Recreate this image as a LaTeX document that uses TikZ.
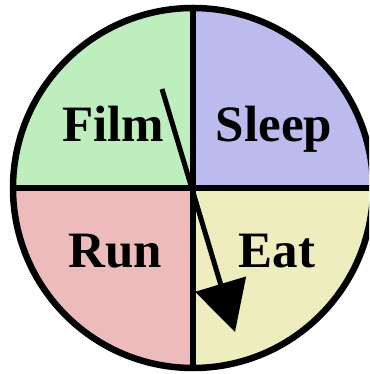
\documentclass[tikz,border=0pt]{standalone}
\usepackage{fontspec}
\setmainfont{Liberation Serif}
\usetikzlibrary{arrows.meta}
\definecolor{cfilm}{RGB}{190,237,190}
\definecolor{csleep}{RGB}{187,187,237}
\definecolor{ceat}{RGB}{237,237,189}
\definecolor{crun}{RGB}{237,187,187}
\tikzset{
  lbl/.style={font=\fontsize{51}{51}\selectfont\bfseries, anchor=base, inner sep=0pt},
  rim/.style={line width=6.5pt},
  pointer/.style={line width=5pt, -{Triangle[length=50pt,width=52pt]}}
}
\begin{document}
\begin{tikzpicture}[x=1pt,y=1pt]
\useasboundingbox (0,0) rectangle (369,374);
\clip (0,0) rectangle (369,374);
\coordinate (c) at (193,186);
\fill[cfilm] (c) -- ++(0,180) arc (90:180:180) -- cycle;
\fill[csleep] (c) -- ++(180,0) arc (0:90:180) -- cycle;
\fill[ceat] (c) -- ++(0,-180) arc (270:360:180) -- cycle;
\fill[crun] (c) -- ++(-180,0) arc (180:270:180) -- cycle;
\draw[rim] (c) circle (180);
\draw[rim] (c) ++(0,180) -- ++(0,-360);
\draw[rim] (c) ++(-180,0) -- ++(360,0);
\node[lbl] (film) at (113,232) {Film};
\node[lbl] (sleep) at (274,232) {Sleep};
\node[lbl] (run) at (115,106) {Run};
\node[lbl] (eat) at (277,106) {Eat};
\coordinate (tail) at (162,285);
\coordinate (tip) at (235,42);
\draw[pointer] (tail) -- (tip);
\end{tikzpicture}
\end{document}
